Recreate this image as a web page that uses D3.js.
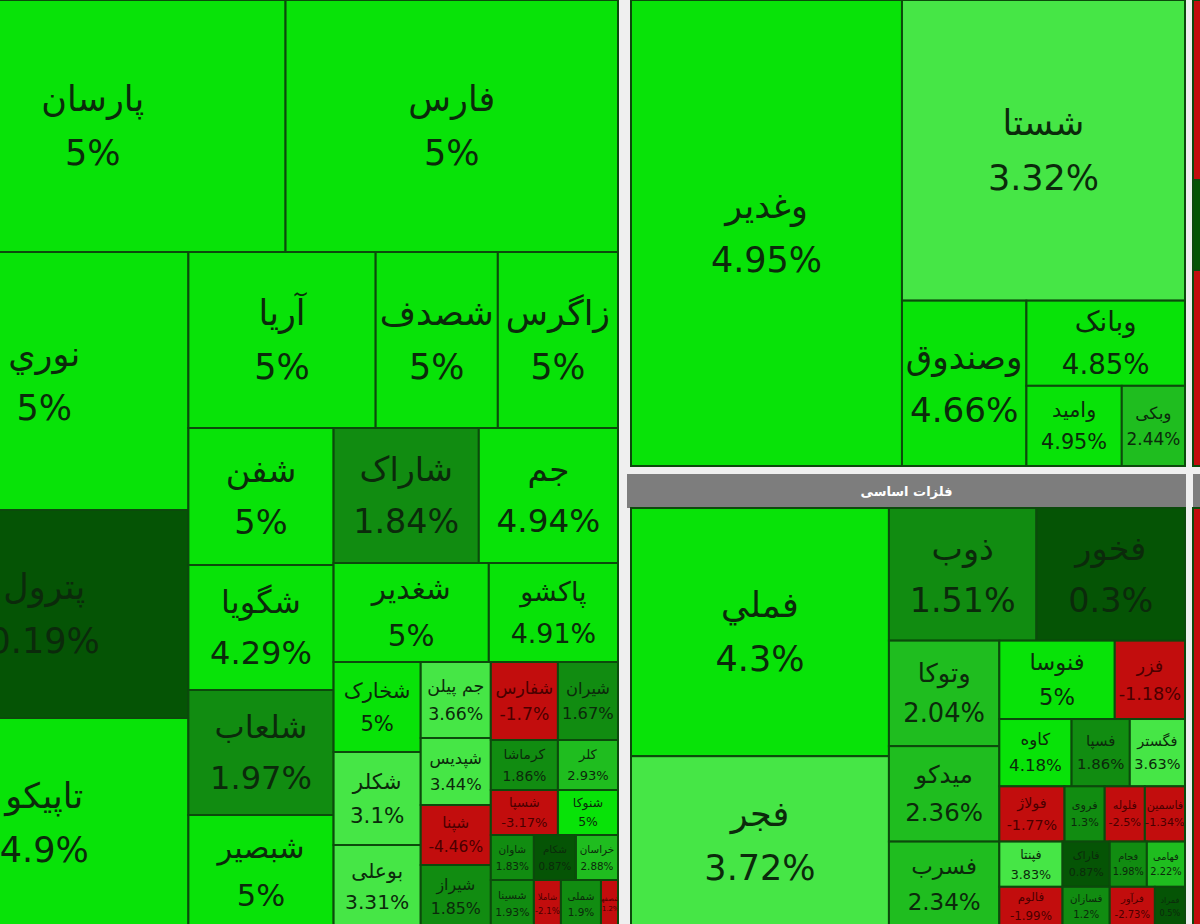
<!DOCTYPE html>
<html><head><meta charset="utf-8">
<script src="https://cdn.jsdelivr.net/npm/d3@7"></script>
<style>html,body{margin:0;padding:0;background:#efefef;overflow:hidden}</style>
</head><body><svg id="c" width="1200" height="924"></svg>
<script>
// ---- data ----
const names = [
  "پارسان","فارس","نوري","پترول","تاپیکو","آریا","شصدف","زاگرس","شفن","شگویا",
  "شلعاب","شبصیر","شاراک","جم","شغدیر","پاکشو","شخارک","شکلر","بوعلی","جم پیلن",
  "شپدیس","شپنا","شیراز","شفارس","شیران","کرماشا","کلر","شسپا","شنوکا","شاوان",
  "شکام","خراسان","شسینا","شاملا","شملی","شصفها",
  "وغدیر","شستا","وصندوق","وبانک","وامید","وبکی",
  "فملي","فجر","ذوب","فخور","وتوکا","میدکو","فسرب","فنوسا","فزر","کاوه",
  "فسپا","فگستر","فولاژ","فروی","فلوله","فاسمین","فپنتا","فاراک","فجام","فهامی",
  "فالوم","فسازان","فرآور","فمراد",
  "","","","" // cut-off panel at the right edge
];
const changes = [
  5,5,5,0.19,4.9,5,5,5,5,4.29,
  1.97,5,1.84,4.94,5,4.91,5,3.1,3.31,3.66,
  3.44,-4.46,1.85,-1.7,1.67,1.86,2.93,-3.17,5,1.83,
  0.87,2.88,1.93,-2.1,1.9,-1.2,
  4.95,3.32,4.66,4.85,4.95,2.44,
  4.3,3.72,1.51,0.3,2.04,2.36,2.34,5,-1.18,4.18,
  1.86,3.63,-1.77,1.3,-2.5,-1.34,3.83,0.87,1.98,2.22,
  -1.99,1.2,-2.73,0.5,
  -1.5,0.5,-2,-2.5
];
const weights = [
  97020,83664,74304,59904,60480,32912,21472,21120,19865,18125,
  18125,16385,19575,18765,15345,12771,7830,8091,7221,5320,
  4690,4200,4410,5226,4680,3350,3000,3015,2700,1935,
  1890,1890,2064,1296,1920,816,
  125550,84600,20460,13430,7600,5040,
  63479,43433,19404,19536,11550,10450,9240,8970,5460,4824,
  3886,3685,3575,2200,2200,2200,2835,2115,1665,1710,
  2457,1833,1755,1170,
  36000,18000,39200,83600
];
const sectorNames = ["فلزات اساسی", ""];
// nesting of the treemap: "h" = side by side, "v" = stacked
const leftStruct = ["v", ["h",0,1], ["h", ["v",2,3,4], ["v", ["h",5,6,7], ["h", ["v",8,9,10,11], ["v", ["h",12,13], ["h",14,15], ["h", ["v",16,17,18], ["v",19,20,21,22], ["v", ["h",23,24], ["h",25,26], ["h",27,28], ["h",29,30,31], ["h",32,33,34,35]]]]]]]];
const trStruct = ["h", 36, ["v", 37, ["h", 38, ["v", 39, ["h", 40, 41]]]]];
const brStruct = ["h", ["v",42,43], ["v", ["h",44,45], ["h", ["v",46,47,48], ["v", ["h",49,50], ["h",51,52,53], ["h",54,55,56,57], ["h",58,59,60,61], ["h",62,63,64,65]]]]];
const edgeTopStruct = ["v", 66, 67, 68];
const edgeBotStruct = ["v", 69];

// ---- drawing ----
const svg = d3.select("#c");
svg.append("rect").attr("width",1200).attr("height",924).attr("fill","#efefef");

const fillScale = d3.scaleThreshold().domain([0,1,2,3,4])
  .range(["#c20d0d","#055405","#118c11","#1fbd1f","#46e646","#08e308"]);
const textScale = d3.scaleThreshold().domain([0]).range(["#4a0000","#0b2a0b"]);

function build(node){
  if (typeof node === "number") return {idx: node, value: weights[node]};
  const [dir, ...kids] = node;
  return {dir, children: kids.map(build)};
}
function tile(parent, x0, y0, x1, y1){
  (parent.data.dir === "h" ? d3.treemapDice : d3.treemapSlice)(parent, x0, y0, x1, y1);
}
let clipId = 0;
function drawPanel(struct, x0, y0, x1, y1){
  const root = d3.hierarchy(build(struct)).sum(d => d.value || 0);
  d3.treemap().tile(tile).size([x1 - x0, y1 - y0])(root);
  const g = svg.append("g").attr("transform", `translate(${x0},${y0})`);
  const cell = g.selectAll("g.cell").data(root.leaves()).join("g").attr("class","cell");
  cell.each(function(d){ d.cid = "clip" + (clipId++); });
  cell.append("clipPath").attr("id", d => d.cid)
    .append("rect").attr("x", d => d.x0).attr("y", d => d.y0)
    .attr("width", d => d.x1 - d.x0).attr("height", d => d.y1 - d.y0);
  cell.append("rect")
    .attr("x", d => d.x0).attr("y", d => d.y0)
    .attr("width", d => d.x1 - d.x0).attr("height", d => d.y1 - d.y0)
    .attr("fill", d => fillScale(changes[d.data.idx]))
    .attr("stroke", "#0c4a0c").attr("stroke-width", 2);
  const lab = cell.filter(d => names[d.data.idx] !== "")
    .append("g").attr("clip-path", d => `url(#${d.cid})`)
    .attr("font-family", "DejaVu Sans, Tahoma, sans-serif")
    .attr("text-anchor", "middle")
    .attr("fill", d => textScale(changes[d.data.idx]));
  const fsOf = d => Math.min(35, Math.sqrt((d.x1 - d.x0) * (d.y1 - d.y0)) / 4.2);
  lab.append("text")
    .attr("x", d => (d.x0 + d.x1) / 2)
    .attr("y", d => (d.y0 + d.y1) / 2 - 0.78 * fsOf(d))
    .attr("dominant-baseline", "central")
    .attr("font-size", d => fsOf(d))
    .text(d => names[d.data.idx]);
  lab.append("text")
    .attr("x", d => (d.x0 + d.x1) / 2)
    .attr("y", d => (d.y0 + d.y1) / 2 + 0.78 * fsOf(d))
    .attr("dominant-baseline", "central")
    .attr("font-size", d => fsOf(d))
    .text(d => changes[d.data.idx] + "%");
}
function drawHeader(label, x0, y0, x1, y1){
  const g = svg.append("g");
  g.append("rect").attr("x", x0).attr("y", y0).attr("width", x1 - x0).attr("height", y1 - y0)
    .attr("fill", "#7d7d7d");
  g.append("text").attr("x", (x0 + x1) / 2).attr("y", (y0 + y1) / 2)
    .attr("dominant-baseline", "central").attr("text-anchor", "middle")
    .attr("font-family", "DejaVu Sans, Tahoma, sans-serif").attr("font-weight", "bold")
    .attr("font-size", 13).attr("fill", "#ffffff").text(label);
}

drawPanel(leftStruct, -100, 0, 618, 928);
drawPanel(trStruct, 631, 0, 1185, 466);
drawHeader(sectorNames[0], 627, 474, 1186, 508);
drawPanel(brStruct, 631, 508, 1185, 926);
drawPanel(edgeTopStruct, 1193, 0, 1400, 466);
drawHeader(sectorNames[1], 1193, 474, 1400, 508);
drawPanel(edgeBotStruct, 1193, 508, 1400, 926);
</script></body></html>
